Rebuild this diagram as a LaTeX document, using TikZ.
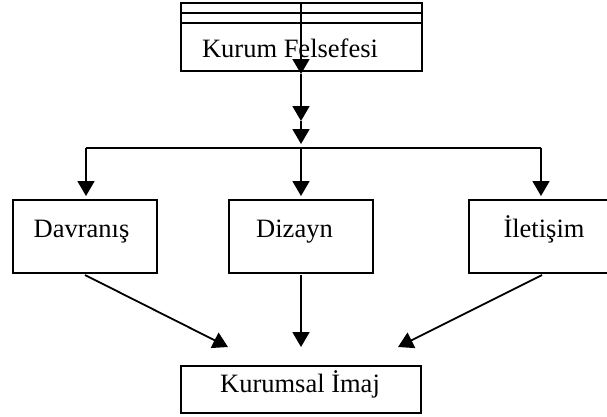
\documentclass[tikz,border=0pt]{standalone}
\usepackage{fontspec}
\setmainfont{Liberation Serif}
\usetikzlibrary{arrows.meta}
\begin{document}
\begin{tikzpicture}[x=1pt,y=-1pt,
  boxstyle/.style={draw,line width=1.8pt,inner sep=0pt,outer sep=0pt},
  lbl/.style={inner sep=0pt,anchor=base,font=\fontsize{26.5}{30}\selectfont},
  conn/.style={line width=1.8pt},
  arr/.style={line width=1.8pt,-{Triangle[length=15pt,width=17pt]}}]
\useasboundingbox (0,0) rectangle (607,416);
\begin{scope}
\clip (0,0) rectangle (607,416);
% boxes
\node[boxstyle,minimum width=241pt,minimum height=68pt] (felsefe) at (301.5,37) {};
\node[boxstyle,minimum width=144pt,minimum height=73pt] (davranis) at (85,236.5) {};
\node[boxstyle,minimum width=144pt,minimum height=73pt] (dizayn) at (301,236.5) {};
\node[boxstyle,minimum width=144pt,minimum height=73pt] (iletisim) at (541,236.5) {};
\node[boxstyle,minimum width=240pt,minimum height=47pt] (imaj) at (301,389.5) {};
\end{scope}
% inner lines of top box
\draw[conn] ([yshift=-10pt]felsefe.north west) -- ([yshift=-10pt]felsefe.north east);
\draw[conn] ([yshift=-20pt]felsefe.north west) -- ([yshift=-20pt]felsefe.north east);
% texts
\node[lbl] (t1) at (290,57) {Kurum Felsefesi};
\node[lbl] (t2) at (81.5,237) {Davranış};
\node[lbl] (t3) at (294.5,237) {Dizayn};
\node[lbl] (t4) at (544,237) {İletişim};
\node[lbl] (t5) at (300,392) {Kurumsal İmaj};
% coordinates
\coordinate (v0) at (301,4);
\coordinate (v1) at (301,74);
\coordinate (v2) at (301,121);
\coordinate (v3) at (301,144);
\coordinate (hl) at (86,148);
\coordinate (hm) at (301,148);
\coordinate (hr) at (541,148);
\coordinate (dl) at (86,196);
\coordinate (dm) at (301,196);
\coordinate (dr) at (541,196);
\coordinate (bl) at (85,275);
\coordinate (bm) at (301,275);
\coordinate (br) at (542,275);
\coordinate (el) at (228,347);
\coordinate (em) at (301,347);
\coordinate (er) at (398,347);
% connectors
\draw[arr] (v0) -- (v1);
\draw[arr] (v1) -- (v2);
\draw[arr] (v2) -- (v3);
\draw[conn] (hl) -- (hr);
\draw[arr] (hl) -- (dl);
\draw[arr] (hm) -- (dm);
\draw[arr] (hr) -- (dr);
\draw[arr] (bl) -- (el);
\draw[arr] (bm) -- (em);
\draw[arr] (br) -- (er);
\end{tikzpicture}
\end{document}
